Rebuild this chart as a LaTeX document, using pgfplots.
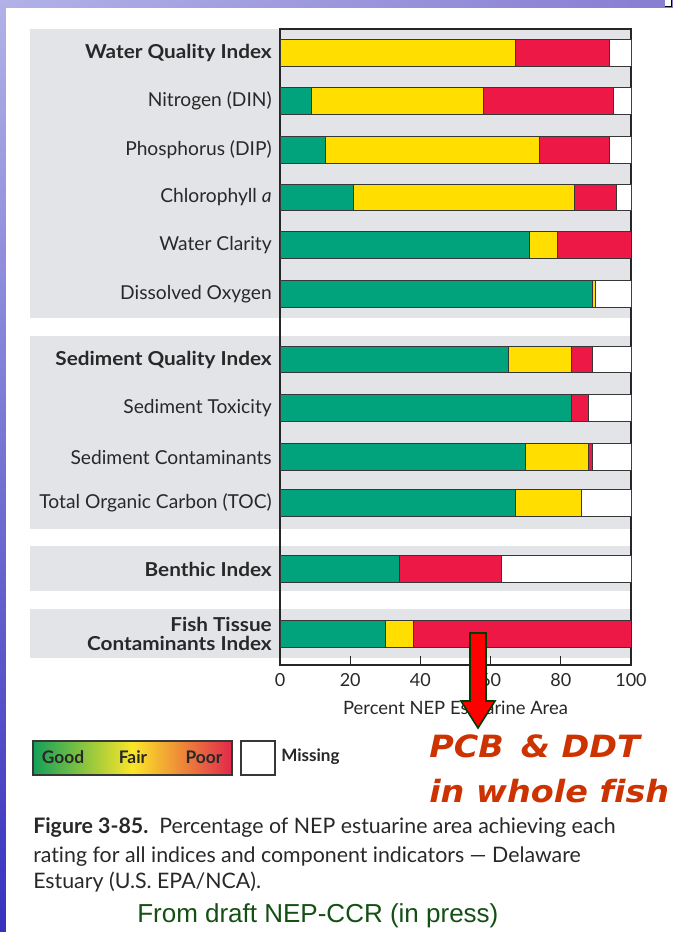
\documentclass[border=0pt]{standalone}
\usepackage{fontspec}
\usepackage{graphicx}
\usepackage{pgfplots}
\usepackage{pgfplotstable}
\pgfplotsset{compat=1.18}
\usetikzlibrary{shadings}
\setmainfont{Lato}[Ligatures=NoCommon]
\newfontfamily\verd{DejaVu Sans}[Ligatures=NoCommon]
\newfontfamily\tah{Liberation Sans}
\definecolor{good}{RGB}{0,163,123}
\definecolor{fair}{RGB}{255,222,0}
\definecolor{poor}{RGB}{238,24,70}
\definecolor{band}{RGB}{226,228,231}
\definecolor{edge}{RGB}{55,55,55}
\definecolor{txt}{RGB}{40,40,40}
\definecolor{annot}{RGB}{204,51,0}
\definecolor{fromgreen}{RGB}{20,80,20}
\definecolor{lgood}{RGB}{20,160,90}
\definecolor{lfair}{RGB}{250,230,40}
\definecolor{lpoor}{RGB}{225,40,75}
\definecolor{bgUL}{RGB}{178,178,232}
\definecolor{bgUR}{RGB}{135,125,210}
\definecolor{bgLL}{RGB}{55,50,190}
\definecolor{bgLR}{RGB}{70,60,200}
\definecolor{arrowedge}{RGB}{0,60,0}
\newcommand{\bl}[1]{\scalebox{1.08}[1]{\bfseries #1}}

\pgfplotstableread{
pos good fair poor miss
53 0 67 27 6
101 9 49 37 5
150 13 61 20 6
197.5 21 63 12 4
245 71 8 21 0
294 89 1 0 10
359.5 65 18 6 11
408 83 0 5 12
457 70 18 1 11
503 67 19 0 14
569 34 0 29 37
634 30 8 62 0
}\datatable

\begin{document}
\begin{tikzpicture}
\begin{scope}[x=0.75pt,y=-0.75pt]
  \path[use as bounding box] (0,0) rectangle (673,932);
  \shade[upper left=bgUL,upper right=bgUR,lower left=bgLL,lower right=bgLR]
    (0,0) rectangle (673,932);
  \fill[white] (6,8) rectangle (673,932);
  \draw[black,fill=white,line width=0.6pt] (665,-1) -- (671,-1) -- (671,6) -- (665,6);
  % grey bands
  \fill[band] (30,29) rectangle (631,318);
  \fill[band] (30,336) rectangle (631,529);
  \fill[band] (30,546) rectangle (631,591);
  \fill[band] (30,609) rectangle (631,658);
\end{scope}

\begin{axis}[
  at={(210pt,-21.75pt)}, anchor=north west,
  scale only axis, width=263.25pt, height=477pt,
  xbar stacked, bar width=26.5,
  xmin=0, xmax=100, ymin=29, ymax=665, y dir=reverse,
  axis line style={draw=black!85, line width=0.8pt},
  xtick={0,20,40,60,80,100}, xtick pos=bottom, tick align=inside,
  major tick length=7pt, x tick style={black!85,line width=0.8pt},
  ytick={53,101,150,197.5,245,294,359.5,408,457,503,569,634},
  yticklabels={\bl{Water Quality Index},Nitrogen (DIN),Phosphorus (DIP),Chlorophyll \textit{a},Water Clarity,Dissolved Oxygen,\bl{Sediment Quality Index},Sediment Toxicity,Sediment Contaminants,Total Organic Carbon (TOC),\bl{Benthic Index},\bl{Fish Tissue}\\\bl{Contaminants Index}},
  y tick style={draw=none},
  yticklabel style={align=right, font=\fontsize{14.4pt}{14pt}\selectfont, text=txt, inner sep=0pt, xshift=-6pt},
  xticklabel style={font=\fontsize{13.5pt}{14pt}\selectfont, text=txt, yshift=-3pt},
  /pgf/number format/assume math mode=true,
  xlabel={Percent NEP Estuarine Area},
  xlabel style={font=\fontsize{13.8pt}{14pt}\selectfont, text=txt, yshift=-4pt},
  every axis plot/.append style={draw=edge, line width=0.75pt},
]
\addplot[fill=good] table[x=good,y=pos] {\datatable};
\addplot[fill=fair] table[x=fair,y=pos] {\datatable};
\addplot[fill=poor] table[x=poor,y=pos] {\datatable};
\addplot[fill=white] table[x=miss,y=pos] {\datatable};
\end{axis}

\begin{scope}[x=0.75pt,y=-0.75pt]
  % arrow
  \draw[fill=red, draw=arrowedge, line width=1.2pt]
    (470,633) -- (486,633) -- (486,701) -- (495,701) -- (478,728) -- (461,701) -- (470,701) -- cycle;
  % legend
  \shade[left color=lgood, right color=lpoor, middle color=lfair] (33,741) rectangle (232,775);
  \draw[edge, line width=0.8pt] (33,741) rectangle (232,775);
  \node[font=\fontsize{13pt}{13pt}\selectfont\bfseries, text=txt] at (63,757) {Good};
  \node[font=\fontsize{13pt}{13pt}\selectfont\bfseries, text=txt] at (133,757) {Fair};
  \node[font=\fontsize{13pt}{13pt}\selectfont\bfseries, text=txt] at (204,757) {Poor};
  \draw[edge, line width=0.8pt, fill=white] (241,741) rectangle (275,775);
  \node[font=\fontsize{12.8pt}{13pt}\selectfont\bfseries, text=txt, anchor=west, inner sep=0pt] at (281,757) {Missing};
  % annotation
  \node[font=\verd\fontsize{23pt}{23pt}\selectfont\bfseries\itshape, text=annot, anchor=base west, inner sep=0pt] at (429,757) {\scalebox{1.09}[1]{PCB \,\& DDT}};
  \node[font=\verd\fontsize{23pt}{23pt}\selectfont\bfseries\itshape, text=annot, anchor=base west, inner sep=0pt] at (429,802) {\scalebox{1.09}[1]{in whole fish}};
  % caption
  \node[font=\fontsize{16pt}{16pt}\selectfont, text=txt, anchor=base west, inner sep=0pt] at (33,833) {\textbf{Figure 3-85.}\ \ Percentage of NEP estuarine area achieving each};
  \node[font=\fontsize{16pt}{16pt}\selectfont, text=txt, anchor=base west, inner sep=0pt] at (33,862) {rating for all indices and component indicators --- Delaware};
  \node[font=\fontsize{16pt}{16pt}\selectfont, text=txt, anchor=base west, inner sep=0pt] at (33,888) {Estuary (U.S. EPA/NCA).};
  \node[font=\tah\fontsize{19.5pt}{20pt}\selectfont, text=fromgreen, anchor=base west, inner sep=0pt] at (137,922) {From draft NEP-CCR (in press)};
\end{scope}
\end{tikzpicture}
\end{document}
